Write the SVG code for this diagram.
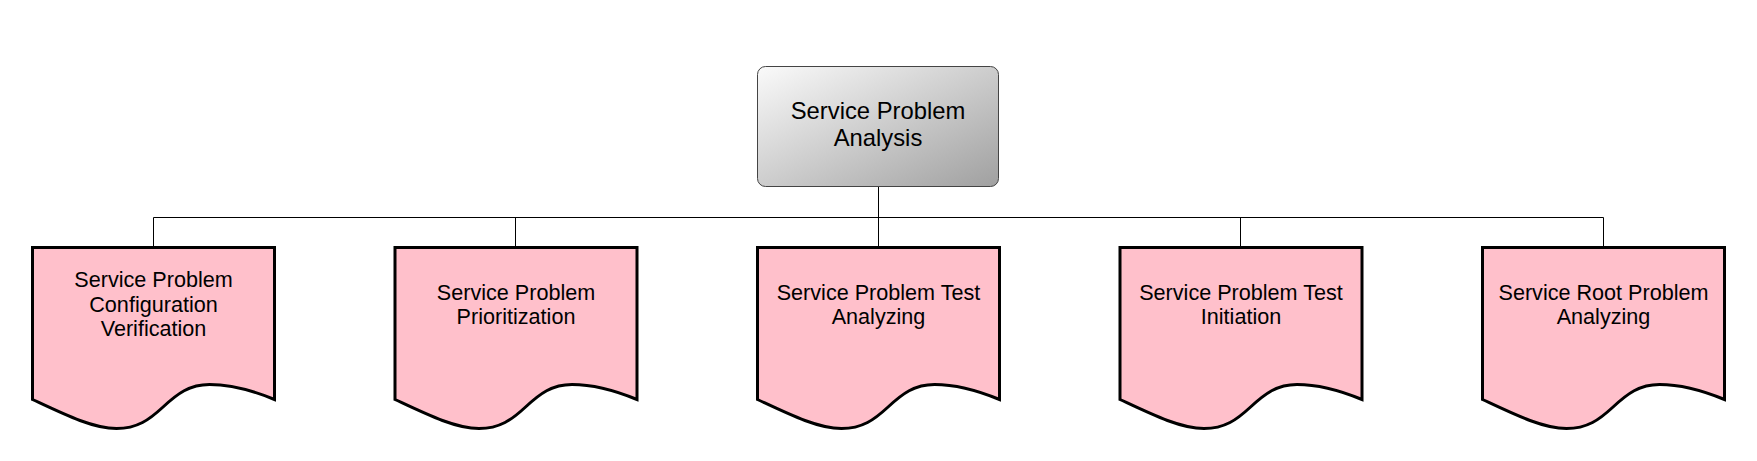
<svg xmlns="http://www.w3.org/2000/svg" width="1757" height="461" viewBox="0 0 1757 461">
<defs>
<linearGradient id="g" x1="0" y1="0" x2="1" y2="1">
<stop offset="0" stop-color="#fafafa"/>
<stop offset="1" stop-color="#a0a0a0"/>
</linearGradient>
<path id="doc" d="M0,0 H242 V152 C225,145 200,137 177,137 C157,137 145,146 130,160 C117,172 105,181 84,181 C60,181 30,166 0,152 Z"/>
</defs>
<style>
.conn{stroke:#000;stroke-width:1;fill:none}
.root{fill:url(#g);stroke:#444;stroke-width:1}
.child{fill:#ffc0cb;stroke:#000;stroke-width:3;stroke-linejoin:miter}
text{font-family:"Liberation Sans",Arial,sans-serif;fill:#000;text-anchor:middle}
.rt{font-size:23.8px}
.ct{font-size:21.6px}
</style>
<rect width="1757" height="461" fill="#fff"/>
<g id="connectors">
<path class="conn" d="M878.5,187 V217.5 M153.5,217.5 H1603.5 M153.5,217.5 V248 M515.5,217.5 V248 M878.5,217.5 V248 M1240.5,217.5 V248 M1603.5,217.5 V248"/>
</g>
<g id="root">
<rect class="root" x="757.5" y="66.5" width="241" height="120" rx="8" ry="8"/>
<text class="rt" x="878" y="119">Service Problem</text>
<text class="rt" x="878" y="146">Analysis</text>
</g>
<g id="n1">
<use href="#doc" class="child" x="32.5" y="247.5"/>
<text class="ct" x="153.5" y="287">Service Problem</text>
<text class="ct" x="153.5" y="311.5">Configuration</text>
<text class="ct" x="153.5" y="336">Verification</text>
</g>
<g id="n2">
<use href="#doc" class="child" x="395" y="247.5"/>
<text class="ct" x="516" y="300">Service Problem</text>
<text class="ct" x="516" y="324">Prioritization</text>
</g>
<g id="n3">
<use href="#doc" class="child" x="757.5" y="247.5"/>
<text class="ct" x="878.5" y="300">Service Problem Test</text>
<text class="ct" x="878.5" y="324">Analyzing</text>
</g>
<g id="n4">
<use href="#doc" class="child" x="1120" y="247.5"/>
<text class="ct" x="1241" y="300">Service Problem Test</text>
<text class="ct" x="1241" y="324">Initiation</text>
</g>
<g id="n5">
<use href="#doc" class="child" x="1482.5" y="247.5"/>
<text class="ct" x="1603.5" y="300">Service Root Problem</text>
<text class="ct" x="1603.5" y="324">Analyzing</text>
</g>
</svg>
